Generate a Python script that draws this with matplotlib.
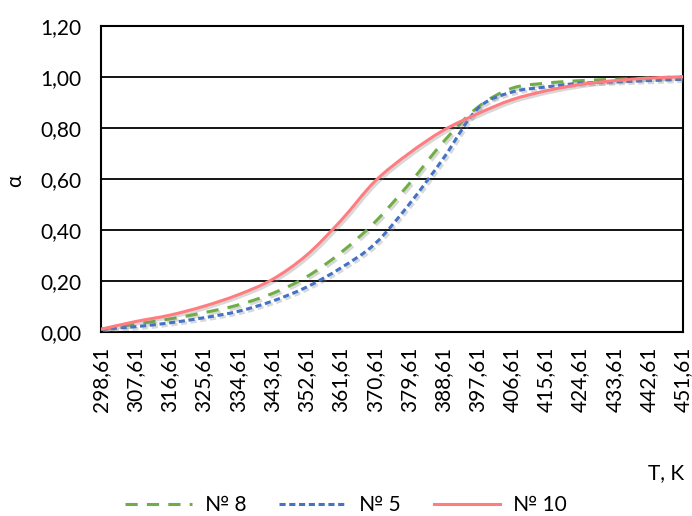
import numpy as np
import matplotlib
matplotlib.use("Agg")
import matplotlib.pyplot as plt
import matplotlib.patheffects as pe
from matplotlib.path import Path
from matplotlib.patches import PathPatch
from matplotlib.lines import Line2D
from matplotlib.ticker import FuncFormatter

plt.rcParams["font.family"] = ["Lato", "DejaVu Sans"]

# Temperature, K (labelled points of the chart)
temps = [298.61 + 9 * i for i in range(18)]

# conversion degree alpha for each sample
alpha_n8 = [0.01, 0.03, 0.05, 0.075, 0.105, 0.15, 0.215, 0.31, 0.43, 0.58,
            0.745, 0.88, 0.955, 0.975, 0.985, 0.99, 0.995, 1.0]
alpha_n5 = [0.01, 0.02, 0.035, 0.055, 0.08, 0.12, 0.175, 0.25, 0.345, 0.50,
            0.68, 0.875, 0.94, 0.96, 0.975, 0.98, 0.985, 0.99]
alpha_n10 = [0.01, 0.04, 0.065, 0.10, 0.145, 0.205, 0.30, 0.435, 0.59, 0.70,
             0.79, 0.855, 0.91, 0.945, 0.97, 0.985, 0.995, 1.0]

series = [
    ("№ 8", alpha_n8, "#70AD47", (0, (4, 3))),
    ("№ 5", alpha_n5, "#4472C4", (0, (2, 1.2))),
    ("№ 10", alpha_n10, "#FF7C80", "-"),
]


def smooth_path(xs, ys):
    # Excel-like smoothed line: cubic bezier through the points
    p = np.column_stack([xs, ys])
    n = len(p)
    verts = [p[0]]
    codes = [Path.MOVETO]
    for i in range(n - 1):
        p0 = p[max(i - 1, 0)]
        p1, p2 = p[i], p[i + 1]
        p3 = p[min(i + 2, n - 1)]
        c1 = p1 + (p2 - p0) / 6
        c2 = p2 - (p3 - p1) / 6
        verts += [c1, c2, p2]
        codes += [Path.CURVE4] * 3
    return Path(verts, codes)


fig = plt.figure(figsize=(6.92, 5.16), dpi=100)
ax = fig.add_axes([0.146, 0.357, 0.841, 0.593])

shadow = [pe.SimpleLineShadow(offset=(1.5, -1.5), shadow_color="gray", alpha=0.3),
          pe.Normal()]

handles = []
for label, vals, color, ls in series:
    patch = PathPatch(smooth_path(temps, vals), facecolor="none", edgecolor=color,
                      linewidth=2.2, linestyle=ls, zorder=3, capstyle="butt")
    patch.set_path_effects(shadow)
    ax.add_patch(patch)
    handles.append(Line2D([], [], color=color, linewidth=2.2, linestyle=ls, label=label))

ax.set_xlim(temps[0], temps[-1])
ax.set_ylim(0, 1.2)
ax.set_yticks(np.arange(0, 1.21, 0.2))
ax.yaxis.set_major_formatter(FuncFormatter(lambda v, _: f"{v:.2f}".replace(".", ",")))
ax.set_xticks(temps)
ax.set_xticklabels([f"{t:.2f}".replace(".", ",") for t in temps], rotation=90)
ax.tick_params(length=0, labelsize=15)
ax.tick_params(axis="y", pad=14)
ax.tick_params(axis="x", pad=11)
ax.yaxis.grid(True, color="black", linewidth=1.3)
ax.set_axisbelow(True)
for s in ax.spines.values():
    s.set_linewidth(1.5)
    s.set_color("black")

fig.text(0.022, 0.65, "α", fontsize=15, rotation=90, ha="center", va="center")
fig.text(0.962, 0.083, "T, K", fontsize=15, ha="center", va="center")

fig.legend(handles=handles, loc="center", bbox_to_anchor=(0.5, 0.021), ncol=3,
           frameon=False, fontsize=15, handlelength=3.2, columnspacing=1.6,
           handletextpad=0.6, borderaxespad=0, borderpad=0)

fig.savefig("out.png", dpi=100)
